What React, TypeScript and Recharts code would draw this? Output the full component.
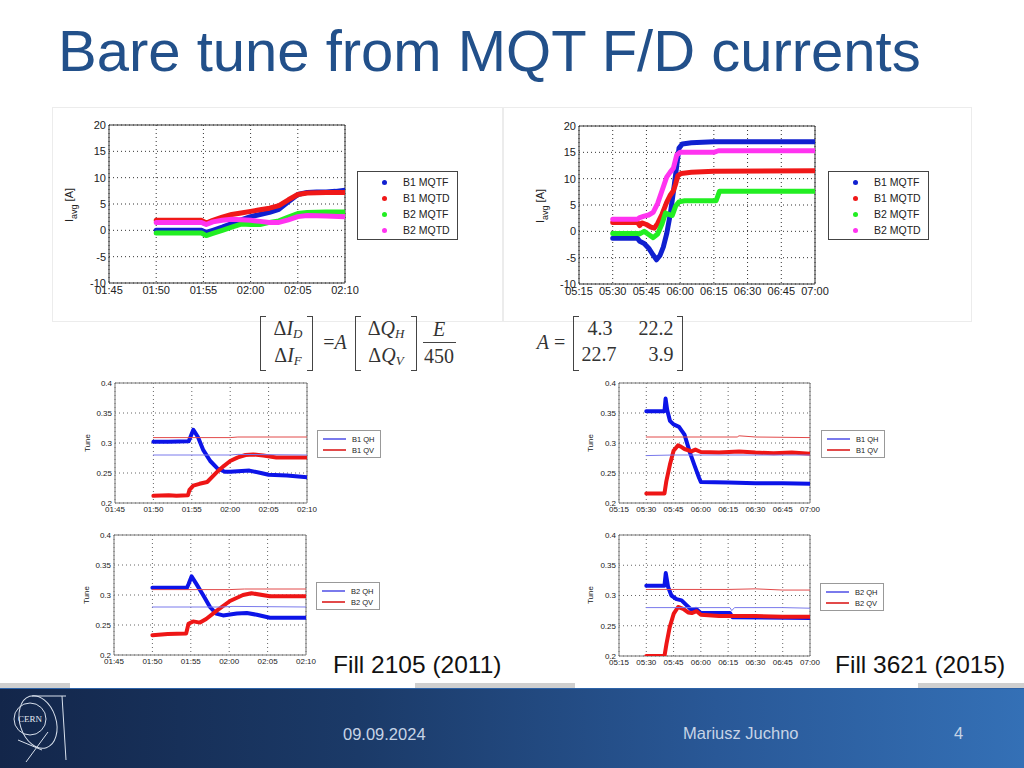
import React from 'react'
import { LineChart, Line, XAxis, YAxis, CartesianGrid, ReferenceArea } from 'recharts'

type Pt = [number, number]

// times are minutes after midnight (110 = 01:50, 330 = 05:30)
const fill2105Ticks = [105, 110, 115, 120, 125, 130]
const fill3621Ticks = [315, 330, 345, 360, 375, 390, 405, 420]
const currentTicks = [-10, -5, 0, 5, 10, 15, 20]
const tuneTicks = [0.2, 0.25, 0.3, 0.35, 0.4]

const currentNames = ['B1 MQTF', 'B1 MQTD', 'B2 MQTF', 'B2 MQTD']
const currentColors = ['#1020d0', '#f01818', '#22ee22', '#ff33f0']

// Fill 2105 MQT currents [A]
const f2105B1Mqtf: Pt[] = [[110, 0], [114.8, 0], [115.3, -0.4], [116, 0], [117, 0.6], [118, 1.3], [119, 2], [120, 2.6], [121, 3], [122, 3.4], [123, 4], [124, 5.4], [125, 6.8], [126, 7.2], [127, 7.3], [128, 7.3], [129, 7.4], [130, 7.6]]
const f2105B1Mqtd: Pt[] = [[110, 1.9], [114.8, 1.9], [115.3, 1.4], [116, 1.9], [117, 2.5], [118, 3], [119, 3.3], [120, 3.6], [121, 3.9], [122, 4.2], [123, 4.7], [124, 5.8], [125, 6.8], [126, 7.1], [128, 7.2], [130, 7.2]]
const f2105B2Mqtf: Pt[] = [[110, -0.5], [114.8, -0.5], [115.3, -1], [116, -0.6], [117, 0], [118, 0.6], [119, 1.2], [120, 1.1], [121, 1.1], [122, 1.5], [123, 1.8], [124, 2.5], [125, 3.2], [126, 3.4], [128, 3.5], [130, 3.5]]
const f2105B2Mqtd: Pt[] = [[110, 1.5], [114.8, 1.5], [115.3, 1.1], [116, 1.6], [117, 1.9], [118, 2.1], [119, 2], [120, 1.9], [121, 1.7], [122, 1.5], [123, 1.5], [124, 2], [125, 2.6], [126, 2.8], [128, 2.7], [130, 2.6]]

// Fill 3621 MQT currents [A]
const f3621B1Mqtf: Pt[] = [[330, -1.3], [341, -1.3], [342, -1.9], [344, -2.3], [346, -3.2], [348, -4.5], [349.5, -5.4], [351, -4.6], [352.5, -3], [354, -0.5], [355.5, 3], [357, 7.5], [358.5, 12.5], [359.5, 15.8], [361, 16.6], [365, 16.8], [375, 17], [420, 17]]
const f3621B1Mqtd: Pt[] = [[330, 1.7], [341, 1.7], [342, 1.1], [343, 1.6], [345, 1.3], [347, 0.8], [348.5, 0.6], [350, 1.5], [352, 3.3], [354, 5.5], [355.5, 6.8], [357, 7.7], [358, 9], [359, 10.6], [360.5, 11], [365, 11.2], [375, 11.4], [420, 11.5]]
const f3621B2Mqtf: Pt[] = [[330, -0.4], [341, -0.4], [342, -0.5], [344, 0], [346, -0.6], [348, -1.2], [350, -0.5], [352, 1.5], [353.5, 3.5], [355, 3.2], [356.5, 3], [358, 4.8], [359.5, 5.6], [362, 5.8], [376, 5.8], [377.5, 7.6], [420, 7.6]]
const f3621B2Mqtd: Pt[] = [[330, 2.3], [341, 2.3], [342, 2.6], [344, 2.9], [346, 3.1], [348, 3.6], [350, 5.3], [352, 7.8], [354, 10.3], [355.5, 11.2], [357, 12], [358.5, 14.5], [360, 15], [375, 15], [377, 15.3], [420, 15.3]]

// Fill 2105 tunes
const f2105B1Qh: Pt[] = [[110, 0.302], [112, 0.302], [114.6, 0.303], [115.2, 0.322], [115.8, 0.31], [116.5, 0.288], [117.4, 0.27], [118.3, 0.258], [119.3, 0.252], [120, 0.252], [122.5, 0.254], [124, 0.25], [125, 0.247], [127.4, 0.246], [130, 0.243]]
const f2105B1Qv: Pt[] = [[110, 0.212], [112, 0.213], [113, 0.212], [114.5, 0.213], [114.7, 0.222], [115.2, 0.229], [116, 0.232], [117, 0.235], [118.3, 0.252], [119.2, 0.262], [120, 0.27], [121, 0.276], [122, 0.28], [123, 0.281], [124.3, 0.279], [126, 0.276], [130, 0.276]]
const f2105B1QhRef: Pt[] = [[110, 0.28], [120, 0.28], [121, 0.281], [130, 0.28]]
const f2105B1QvRef: Pt[] = [[110, 0.309], [120, 0.309], [121, 0.31], [130, 0.31]]
const f2105B2Qh: Pt[] = [[110, 0.312], [114.5, 0.312], [114.7, 0.318], [115.1, 0.331], [115.7, 0.319], [116.6, 0.3], [117.5, 0.28], [118.3, 0.269], [119.2, 0.266], [121, 0.269], [122.3, 0.27], [123.6, 0.267], [125.3, 0.262], [130, 0.262]]
const f2105B2Qv: Pt[] = [[110, 0.233], [112, 0.235], [114.4, 0.236], [114.7, 0.252], [115.3, 0.256], [116.2, 0.254], [117, 0.26], [118.3, 0.273], [120.1, 0.29], [121.8, 0.3], [122.9, 0.303], [125.3, 0.298], [130, 0.298]]
const f2105B2QhRef: Pt[] = [[110, 0.28], [119, 0.28], [120.5, 0.281], [130, 0.28]]
const f2105B2QvRef: Pt[] = [[110, 0.309], [120, 0.309], [122, 0.31], [130, 0.31]]

// Fill 3621 tunes
const f3621B1Qh: Pt[] = [[330, 0.353], [340, 0.353], [340.6, 0.374], [341.5, 0.355], [343, 0.337], [345, 0.331], [348, 0.327], [351, 0.314], [354, 0.284], [356.6, 0.262], [359, 0.242], [360, 0.235], [375, 0.234], [390, 0.233], [405, 0.233], [420, 0.232]]
const f3621B1Qv: Pt[] = [[330, 0.216], [340, 0.216], [341, 0.236], [343, 0.264], [345, 0.287], [347.4, 0.296], [349, 0.294], [351, 0.29], [354.8, 0.286], [357, 0.289], [360, 0.285], [370, 0.284], [381, 0.286], [390, 0.284], [400, 0.283], [410, 0.284], [420, 0.282]]
const f3621B1QhRef: Pt[] = [[330, 0.279], [345, 0.28], [360, 0.28], [420, 0.28]]
const f3621B1QvRef: Pt[] = [[330, 0.31], [380, 0.31], [381, 0.312], [390, 0.31], [420, 0.309]]
const f3621B2Qh: Pt[] = [[330, 0.316], [340, 0.316], [340.7, 0.337], [342, 0.314], [343.8, 0.3], [346.6, 0.294], [349.4, 0.292], [352.1, 0.284], [354.9, 0.276], [357.3, 0.278], [360, 0.271], [376, 0.271], [377.4, 0.264], [420, 0.263]]
const f3621B2Qv: Pt[] = [[330, 0.2], [340, 0.2], [341.1, 0.22], [342.9, 0.248], [345.1, 0.27], [347.5, 0.281], [350.3, 0.278], [353, 0.272], [355, 0.271], [357.7, 0.274], [360, 0.268], [370, 0.266], [390, 0.266], [405, 0.265], [420, 0.265]]
const f3621B2QhRef: Pt[] = [[330, 0.28], [376, 0.28], [377, 0.275], [378.5, 0.28], [405, 0.28], [420, 0.279]]
const f3621B2QvRef: Pt[] = [[330, 0.31], [375, 0.31], [390, 0.311], [405, 0.309], [420, 0.309]]

const QH = '#0c14e8'
const QV = '#ee1616'
const QH_REF = '#7a7aec'
const QV_REF = '#e24a4a'

const hhmm = (m: number) =>
  `${String(Math.floor(m / 60)).padStart(2, '0')}:${String(m % 60).padStart(2, '0')}`

type Series = { pts: Pt[]; color: string; width: number }

interface PlotProps {
  x: number
  y: number
  w: number
  h: number
  xDomain: [number, number]
  xTicks: number[]
  yDomain: [number, number]
  yTicks: number[]
  font: number
  frame: string
  grid: string
  series: Series[]
}

function Plot(p: PlotProps) {
  const yw = 45
  const xh = 22
  const mt = 8
  const mr = 14
  return (
    <div style={{ position: 'absolute', left: p.x - yw, top: p.y - mt }}>
      <LineChart width={p.w + yw + mr} height={p.h + mt + xh} margin={{ top: mt, right: mr, bottom: 0, left: 0 }}>
        <CartesianGrid stroke={p.grid} strokeDasharray="1 3" />
        <XAxis
          type="number"
          dataKey="t"
          domain={p.xDomain}
          ticks={p.xTicks}
          interval={0}
          allowDataOverflow
          height={xh}
          tickSize={0}
          tickMargin={3}
          axisLine={false}
          tickFormatter={hhmm}
          tick={{ fill: '#222', fontSize: p.font, fontFamily: 'Liberation Sans, Arial' }}
        />
        <YAxis
          type="number"
          domain={p.yDomain}
          ticks={p.yTicks}
          interval={0}
          allowDataOverflow
          width={yw}
          tickSize={0}
          tickMargin={3}
          axisLine={false}
          tickFormatter={(v: number) => String(v)}
          tick={{ fill: '#222', fontSize: p.font, fontFamily: 'Liberation Sans, Arial' }}
        />
        <ReferenceArea x1={p.xDomain[0]} x2={p.xDomain[1]} y1={p.yDomain[0]} y2={p.yDomain[1]} fill="none" stroke={p.frame} strokeWidth={1} />
        {p.series.map((s, i) => (
          <Line
            key={i}
            data={s.pts.map(([t, v]) => ({ t, v }))}
            dataKey="v"
            type="linear"
            stroke={s.color}
            strokeWidth={s.width}
            strokeLinecap="round"
            strokeLinejoin="round"
            dot={false}
            isAnimationActive={false}
          />
        ))}
      </LineChart>
    </div>
  )
}

function DotLegend({ x, y }: { x: number; y: number }) {
  return (
    <div style={{ position: 'absolute', left: x, top: y, width: 101, height: 69, border: '1px solid #444', boxSizing: 'border-box', paddingTop: 2, background: '#fff' }}>
      {currentNames.map((n, i) => (
        <div key={n} style={{ height: 16, display: 'flex', alignItems: 'center', fontSize: 10.5, color: '#222' }}>
          <span style={{ width: 5, height: 5, borderRadius: 3, background: currentColors[i], marginLeft: 24, marginRight: 16 }} />
          {n}
        </div>
      ))}
    </div>
  )
}

function LineLegend({ x, y, names }: { x: number; y: number; names: string[] }) {
  const cols = [QH_REF, QV_REF]
  return (
    <div style={{ position: 'absolute', left: x, top: y, width: 64, height: 28, border: '1px solid #999', boxSizing: 'border-box', paddingTop: 2.5, background: '#fff' }}>
      {names.map((n, i) => (
        <div key={n} style={{ height: 11, display: 'flex', alignItems: 'center', fontSize: 7.5, color: '#222' }}>
          <span style={{ display: 'block', flexShrink: 0, width: 23, height: 1.5, background: cols[i], marginLeft: 5, marginRight: 6 }} />
          {n}
        </div>
      ))}
    </div>
  )
}

function VLabel({ cx, cy, size, children }: { cx: number; cy: number; size: number; children: React.ReactNode }) {
  return (
    <div style={{ position: 'absolute', left: cx, top: cy, transform: 'translate(-50%, -50%) rotate(-90deg)', whiteSpace: 'nowrap', fontSize: size, color: '#222' }}>
      {children}
    </div>
  )
}

const at = (cx: number, cy: number): React.CSSProperties => ({
  position: 'absolute', left: cx, top: cy, transform: 'translate(-50%, -50%)', whiteSpace: 'nowrap',
})

function Bracket({ x, side }: { x: number; side: 'l' | 'r' }) {
  const b = '1.4px solid #444'
  return (
    <div style={{
      position: 'absolute', left: x, top: 316, width: 6, height: 55, boxSizing: 'border-box',
      borderTop: b, borderBottom: b, borderLeft: side === 'l' ? b : 'none', borderRight: side === 'r' ? b : 'none',
    }} />
  )
}

function Formulas() {
  const it: React.CSSProperties = { fontStyle: 'italic' }
  const sub = (s: string) => <sub style={{ fontSize: 13, fontStyle: 'italic', verticalAlign: -3 }}>{s}</sub>
  return (
    <div style={{ fontFamily: 'Liberation Serif, serif', fontSize: 20, color: '#333' }}>
      <Bracket x={260} side="l" />
      <Bracket x={307} side="r" />
      <span style={at(288, 329)}>Δ<span style={it}>I</span>{sub('D')}</span>
      <span style={at(288, 356)}>Δ<span style={it}>I</span>{sub('F')}</span>
      <span style={at(335, 342)}>=<span style={it}>A</span></span>
      <Bracket x={355} side="l" />
      <Bracket x={411} side="r" />
      <span style={at(386, 329)}>Δ<span style={it}>Q</span>{sub('H')}</span>
      <span style={at(386, 356)}>Δ<span style={it}>Q</span>{sub('V')}</span>
      <span style={{ ...at(439, 329), ...it }}>E</span>
      <div style={{ position: 'absolute', left: 423, top: 342, width: 33, height: 1, background: '#444' }} />
      <span style={at(439, 356)}>450</span>

      <span style={at(551, 342)}><span style={it}>A</span> =</span>
      <Bracket x={573} side="l" />
      <Bracket x={677} side="r" />
      <span style={at(600, 328)}>4.3</span>
      <span style={at(656, 328)}>22.2</span>
      <span style={at(599, 354)}>22.7</span>
      <span style={at(661, 354)}>3.9</span>
    </div>
  )
}

function CernLogo() {
  return (
    <svg style={{ position: 'absolute', left: 8, top: 692 }} width={62} height={72} viewBox="0 0 62 72">
      <g fill="none" stroke="#d8e0ec" strokeWidth={1}>
        <circle cx={22} cy={27} r={16} />
        <ellipse cx={30} cy={30} rx={18} ry={27} transform="rotate(-18 30 30)" />
        <line x1={24} y1={4} x2={58} y2={4} />
        <line x1={54} y1={4} x2={58} y2={68} />
        <line x1={10} y1={48} x2={34} y2={58} />
        <line x1={18} y1={70} x2={40} y2={40} />
      </g>
      <text x={22} y={30} textAnchor="middle" fontSize={9} fill="#e4eaf2" fontFamily="Liberation Serif, serif">CERN</text>
    </svg>
  )
}

export default function App() {
  const curSeries = (a: Pt[][]): Series[] => a.map((pts, i) => ({ pts, color: currentColors[i], width: 5 }))
  const tuneSeries = (qh: Pt[], qv: Pt[], qhRef: Pt[], qvRef: Pt[]): Series[] => [
    { pts: qh, color: QH, width: 4 },
    { pts: qv, color: QV, width: 4 },
    { pts: qhRef, color: QH_REF, width: 1 },
    { pts: qvRef, color: QV_REF, width: 1 },
  ]
  const curCommon = { yDomain: [-10, 20] as [number, number], yTicks: currentTicks, font: 11, frame: '#333', grid: '#333' }
  const tuneCommon = { yDomain: [0.2, 0.4] as [number, number], yTicks: tuneTicks, font: 8, frame: '#777', grid: '#666' }

  return (
    <div style={{ position: 'absolute', left: 0, top: 0, width: 1024, height: 768, overflow: 'hidden', background: '#fff', fontFamily: 'Liberation Sans, Arial, sans-serif' }}>
      <div style={{ position: 'absolute', left: 58, top: 22, fontSize: 58, lineHeight: '58px', color: '#22508a', whiteSpace: 'nowrap' }}>
        Bare tune from MQT F/D currents
      </div>

      <div style={{ position: 'absolute', left: 52, top: 107, width: 451, height: 215, border: '1px solid #ececec', boxSizing: 'border-box' }} />
      <div style={{ position: 'absolute', left: 503, top: 107, width: 469, height: 215, border: '1px solid #ececec', boxSizing: 'border-box' }} />

      <Plot x={109} y={125} w={236} h={158} xDomain={[105, 130]} xTicks={fill2105Ticks} {...curCommon}
        series={curSeries([f2105B1Mqtf, f2105B1Mqtd, f2105B2Mqtf, f2105B2Mqtd])} />
      <VLabel cx={71} cy={205} size={11}>I<sub style={{ fontSize: 9 }}>avg</sub> [A]</VLabel>
      <DotLegend x={357} y={171} />

      <Plot x={579} y={126} w={236} h={158} xDomain={[315, 420]} xTicks={fill3621Ticks} {...curCommon}
        series={curSeries([f3621B1Mqtf, f3621B1Mqtd, f3621B2Mqtf, f3621B2Mqtd])} />
      <VLabel cx={542} cy={206} size={11}>I<sub style={{ fontSize: 9 }}>avg</sub> [A]</VLabel>
      <DotLegend x={828} y={171} />

      <Formulas />

      <Plot x={115} y={383} w={192} h={120} xDomain={[105, 130]} xTicks={fill2105Ticks} {...tuneCommon}
        series={tuneSeries(f2105B1Qh, f2105B1Qv, f2105B1QhRef, f2105B1QvRef)} />
      <VLabel cx={87} cy={443} size={8}>Tune</VLabel>
      <LineLegend x={317} y={430} names={['B1 QH', 'B1 QV']} />

      <Plot x={619} y={383} w={191} h={120} xDomain={[315, 420]} xTicks={fill3621Ticks} {...tuneCommon}
        series={tuneSeries(f3621B1Qh, f3621B1Qv, f3621B1QhRef, f3621B1QvRef)} />
      <VLabel cx={590} cy={443} size={8}>Tune</VLabel>
      <LineLegend x={821} y={430} names={['B1 QH', 'B1 QV']} />

      <Plot x={114} y={535} w={192} h={120} xDomain={[105, 130]} xTicks={fill2105Ticks} {...tuneCommon}
        series={tuneSeries(f2105B2Qh, f2105B2Qv, f2105B2QhRef, f2105B2QvRef)} />
      <VLabel cx={86} cy={595} size={8}>Tune</VLabel>
      <LineLegend x={316} y={582} names={['B2 QH', 'B2 QV']} />

      <Plot x={619} y={535} w={191} h={121} xDomain={[315, 420]} xTicks={fill3621Ticks} {...tuneCommon}
        series={tuneSeries(f3621B2Qh, f3621B2Qv, f3621B2QhRef, f3621B2QvRef)} />
      <VLabel cx={590} cy={595} size={8}>Tune</VLabel>
      <LineLegend x={820} y={583} names={['B2 QH', 'B2 QV']} />

      <div style={{ position: 'absolute', left: 333, top: 650, fontSize: 24.5, lineHeight: '30px', color: '#111', whiteSpace: 'nowrap' }}>Fill 2105 (2011)</div>
      <div style={{ position: 'absolute', left: 835, top: 650, fontSize: 24.5, lineHeight: '30px', color: '#111', whiteSpace: 'nowrap' }}>Fill 3621 (2015)</div>

      <div style={{ position: 'absolute', left: 0, top: 683, width: 70, height: 5, background: '#cfcfcf' }} />
      <div style={{ position: 'absolute', left: 415, top: 683, width: 160, height: 5, background: '#cfcfcf' }} />
      <div style={{ position: 'absolute', left: 918, top: 683, width: 106, height: 5, background: '#cfcfcf' }} />

      <div style={{ position: 'absolute', left: 0, top: 688, width: 1024, height: 80, background: 'linear-gradient(90deg, #13264a 0%, #1b3a68 35%, #295897 70%, #3470b6 100%)', borderTop: '1px solid #2d63a8', boxSizing: 'border-box' }} />
      <CernLogo />
      <div style={{ position: 'absolute', left: 343, top: 724, fontSize: 16.5, lineHeight: '20px', color: '#c7d4e6', whiteSpace: 'nowrap' }}>09.09.2024</div>
      <div style={{ position: 'absolute', left: 683, top: 723, fontSize: 16.5, lineHeight: '20px', color: '#c7d4e6', whiteSpace: 'nowrap' }}>Mariusz Juchno</div>
      <div style={{ position: 'absolute', left: 954, top: 723, fontSize: 16.5, lineHeight: '20px', color: '#c7d4e6' }}>4</div>
    </div>
  )
}
